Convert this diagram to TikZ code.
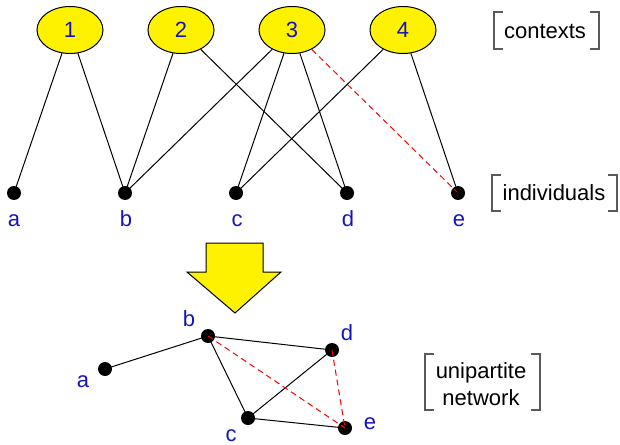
\documentclass[tikz,border=0pt]{standalone}
\usepackage{fontspec}
\setmainfont{Liberation Sans}
\usetikzlibrary{shapes.geometric}

\definecolor{labelblue}{RGB}{20,20,190}
\definecolor{bracketgray}{RGB}{90,90,90}

\begin{document}
\begin{tikzpicture}
	[x=0.5pt,y=-0.5pt,line width=0.5pt,node distance=55.5pt,
		font=\fontsize{11}{13}\selectfont,
		context node/.style={ellipse,draw,fill=yellow,minimum width=33pt,minimum height=23.5pt,inner sep=0pt,text=labelblue},
		person node/.style={circle,fill=black,minimum size=7pt,inner sep=0pt},
		name node/.style={text=labelblue,inner sep=0pt,anchor=base},
		tie/.style={draw},
		cut tie/.style={draw=red,dash pattern=on 3pt off 2pt},
		bracket/.style={draw=bracketgray,line width=0.6pt}]

	\useasboundingbox (0,0) rectangle (620,444);

	% contexts
	\node[context node] (C1) at (70,30) {1};
	\node[context node] [right of=C1] (C2) {2};
	\node[context node] [right of=C2] (C3) {3};
	\node[context node] [right of=C3] (C4) {4};

	% individuals
	\node[person node] (a) at (14,193) {};
	\node[person node] [right of=a] (b) {};
	\node[person node] [right of=b] (c) {};
	\node[person node] [right of=c] (d) {};
	\node[person node] [right of=d] (e) {};

	\node[name node] (la) at (14,226) {a};
	\node[name node] (lb) at (126,226) {b};
	\node[name node] (lc) at (237,226) {c};
	\node[name node] (ld) at (348,226) {d};
	\node[name node] (le) at (459,226) {e};

	\path
	(C1) edge[tie] (a.center)
	(C1) edge[tie] (b.center)
	(C2) edge[tie] (b.center)
	(C2) edge[tie] (d.center)
	(C3) edge[tie] (b.center)
	(C3) edge[tie] (c.center)
	(C3) edge[tie] (d.center)
	(C3) edge[cut tie] (e.center)
	(C4) edge[tie] (c.center)
	(C4) edge[tie] (e.center)
	;

	% projection arrow
	\draw[fill=yellow] (206,243) -- (263,243) -- (263,272) -- (281,272) -- (235,313)
		-- (187,272) -- (206,272) -- cycle;

	% unipartite network
	\node[person node] (na) at (105,369) {};
	\node[person node] (nb) at (208,336) {};
	\node[person node] (nc) at (248,418) {};
	\node[person node] (nd) at (332,350) {};
	\node[person node] (ne) at (345,428) {};

	\node[name node] (lna) at (83,387) {a};
	\node[name node] (lnb) at (189,326) {b};
	\node[name node] (lnc) at (231,441) {c};
	\node[name node] (lnd) at (347,340) {d};
	\node[name node] (lne) at (370,429) {e};

	\path
	(na.center) edge[tie] (nb.center)
	(nb.center) edge[tie] (nd.center)
	(nb.center) edge[tie] (nc.center)
	(nc.center) edge[tie] (nd.center)
	(nc.center) edge[tie] (ne.center)
	(nb.center) edge[cut tie] (ne.center)
	(nd.center) edge[cut tie] (ne.center)
	;

	% level names
	\node (ctx) at (545,31) {contexts};
	\draw[bracket] (503,12) -- (494,12) -- (494,49) -- (503,49);
	\draw[bracket] (590,12) -- (599,12) -- (599,49) -- (590,49);

	\node (ind) at (554,193) {individuals};
	\draw[bracket] (501,175) -- (492,175) -- (492,211) -- (501,211);
	\draw[bracket] (608,175) -- (617,175) -- (617,211) -- (608,211);

	\node[align=center,font=\fontsize{11}{13.5}\selectfont] (uni) at (481,384) {unipartite\\network};
	\draw[bracket] (434,354) -- (425,354) -- (425,410) -- (434,410);
	\draw[bracket] (531,354) -- (540,354) -- (540,410) -- (531,410);

\end{tikzpicture}
\end{document}
